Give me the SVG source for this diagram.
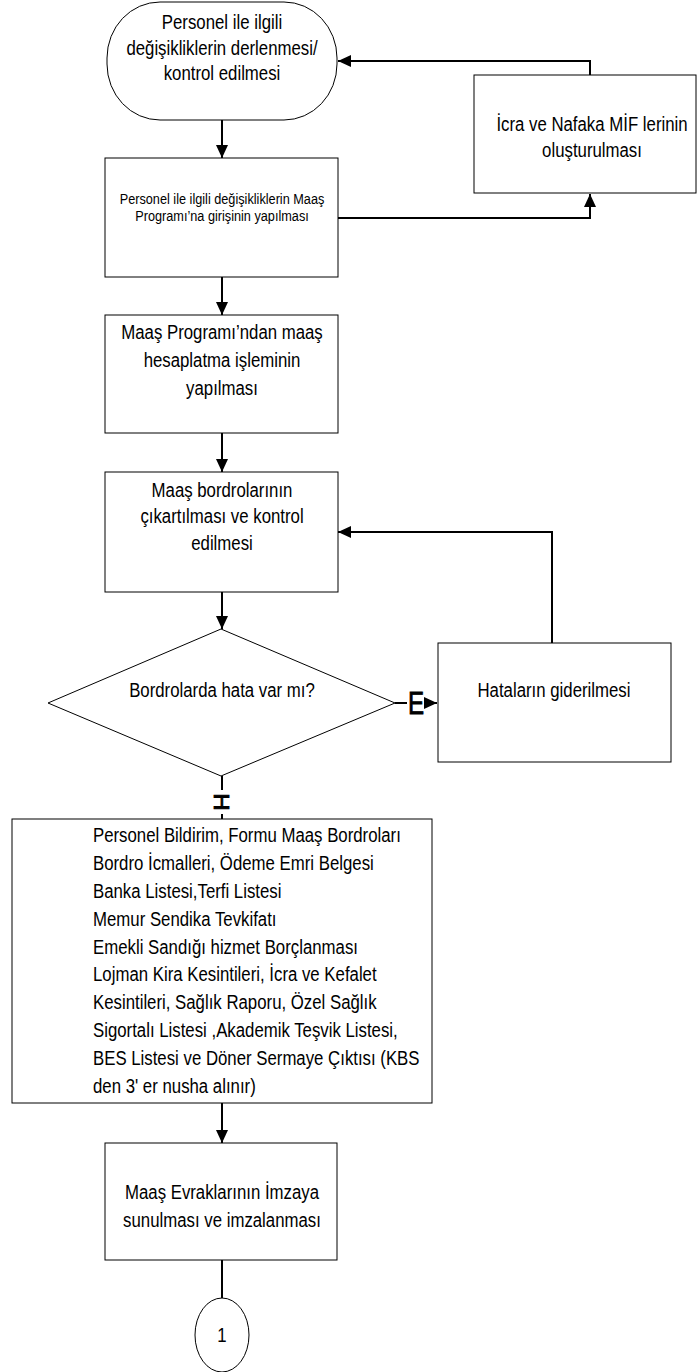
<svg xmlns="http://www.w3.org/2000/svg" width="697" height="1372" viewBox="0 0 697 1372">
<style>
.box{fill:#fff;stroke:#000;stroke-width:1}
.t{font-family:"Liberation Sans",Arial,sans-serif;font-size:21px;fill:#000;text-anchor:middle}
.s{font-size:15.5px}
.l{text-anchor:start}
.c{fill:none;stroke:#000;stroke-width:2}
.lab{font-family:"Liberation Sans",Arial,sans-serif;fill:#000;text-anchor:middle;stroke:#000;stroke-width:0.8}
</style>
<defs>
<marker id="ah" markerUnits="userSpaceOnUse" markerWidth="14" markerHeight="12" refX="13" refY="6" orient="auto">
<path d="M0,0 L13,6 L0,12 Z" fill="#000"/>
</marker>
</defs>
<rect width="697" height="1372" fill="#fff"/>
<g id="connectors">
<path class="c" d="M222,120 V158" marker-end="url(#ah)"/>
<path class="c" d="M590,75 V61 H338" marker-end="url(#ah)"/>
<path class="c" d="M338,218 H590 V194" marker-end="url(#ah)"/>
<path class="c" d="M222,277 V315" marker-end="url(#ah)"/>
<path class="c" d="M222,433 V472" marker-end="url(#ah)"/>
<path class="c" d="M222,592 V629" marker-end="url(#ah)"/>
<path class="c" d="M552,643 V532 H338" marker-end="url(#ah)"/>
<path class="c" d="M395,703 H437" marker-end="url(#ah)"/>
<path class="c" d="M222,776 V819"/>
<path class="c" d="M222,1103 V1143" marker-end="url(#ah)"/>
<path class="c" d="M222,1260 V1298"/>
<g id="label-E">
<rect x="407" y="688" width="17" height="28" fill="#fff"/>
<text class="lab" transform="translate(416,714) scale(.78,1)" style="font-size:31px">E</text>
</g>
<g id="label-H">
<rect x="212" y="790" width="20" height="24" fill="#fff"/>
<text class="lab" transform="translate(222,802) rotate(90) scale(1.1,1)" x="0" y="8" style="font-size:22px">H</text>
</g>
</g>
<g id="n1">
<rect class="box" x="107" y="2" width="230" height="118" rx="53" ry="56"/>
<text class="t" transform="translate(222,29) scale(.8,1)">Personel ile ilgili</text>
<text class="t" transform="translate(222,55) scale(.8,1)">değişikliklerin derlenmesi/</text>
<text class="t" transform="translate(222,80) scale(.8,1)">kontrol edilmesi</text>
</g>
<g id="n2">
<rect class="box" x="474" y="75" width="222" height="118"/>
<text class="t" transform="translate(592,131) scale(.8,1)">İcra ve Nafaka MİF lerinin</text>
<text class="t" transform="translate(592,157) scale(.8,1)">oluşturulması</text>
</g>
<g id="n3">
<rect class="box" x="105" y="158" width="233" height="119"/>
<text class="t s" transform="translate(222,204) scale(.82,1)">Personel ile ilgili değişikliklerin Maaş</text>
<text class="t s" transform="translate(222,221) scale(.82,1)">Programı’na girişinin yapılması</text>
</g>
<g id="n4">
<rect class="box" x="105" y="315" width="233" height="118"/>
<text class="t" transform="translate(222,339) scale(.8,1)">Maaş Programı’ndan maaş</text>
<text class="t" transform="translate(222,367) scale(.8,1)">hesaplatma işleminin</text>
<text class="t" transform="translate(222,395) scale(.8,1)">yapılması</text>
</g>
<g id="n5">
<rect class="box" x="105" y="472" width="233" height="120"/>
<text class="t" transform="translate(222,497) scale(.8,1)">Maaş bordrolarının</text>
<text class="t" transform="translate(222,523) scale(.8,1)">çıkartılması ve kontrol</text>
<text class="t" transform="translate(222,550) scale(.8,1)">edilmesi</text>
</g>
<g id="n6">
<polygon class="box" points="221,629 395,703 221,776 48,703"/>
<text class="t" transform="translate(222,697) scale(.8,1)">Bordrolarda hata var mı?</text>
</g>
<g id="n7">
<rect class="box" x="438" y="643" width="233" height="119"/>
<text class="t" transform="translate(554,697) scale(.8,1)">Hataların giderilmesi</text>
</g>
<g id="n8">
<rect class="box" x="12" y="819" width="420" height="284"/>
<text class="t l" transform="translate(93,842) scale(.8,1)">Personel Bildirim, Formu Maaş Bordroları</text>
<text class="t l" transform="translate(93,870) scale(.8,1)">Bordro İcmalleri, Ödeme Emri Belgesi</text>
<text class="t l" transform="translate(93,898) scale(.8,1)">Banka Listesi,Terfi Listesi</text>
<text class="t l" transform="translate(93,926) scale(.8,1)">Memur Sendika Tevkifatı</text>
<text class="t l" transform="translate(93,954) scale(.8,1)">Emekli Sandığı hizmet Borçlanması</text>
<text class="t l" transform="translate(93,981) scale(.8,1)">Lojman Kira Kesintileri, İcra ve Kefalet</text>
<text class="t l" transform="translate(93,1009) scale(.8,1)">Kesintileri, Sağlık Raporu, Özel Sağlık</text>
<text class="t l" transform="translate(93,1037) scale(.8,1)">Sigortalı Listesi ,Akademik Teşvik Listesi,</text>
<text class="t l" transform="translate(93,1065) scale(.8,1)">BES Listesi ve Döner Sermaye Çıktısı (KBS</text>
<text class="t l" transform="translate(93,1093) scale(.8,1)">den 3' er nusha alınır)</text>
</g>
<g id="n9">
<rect class="box" x="105" y="1143" width="232" height="117"/>
<text class="t" transform="translate(222,1199) scale(.8,1)">Maaş Evraklarının İmzaya</text>
<text class="t" transform="translate(222,1227) scale(.8,1)">sunulması ve imzalanması</text>
</g>
<g id="n10">
<ellipse class="box" cx="222" cy="1335" rx="27" ry="37"/>
<text class="t" transform="translate(222,1342) scale(.8,1)">1</text>
</g>
</svg>
